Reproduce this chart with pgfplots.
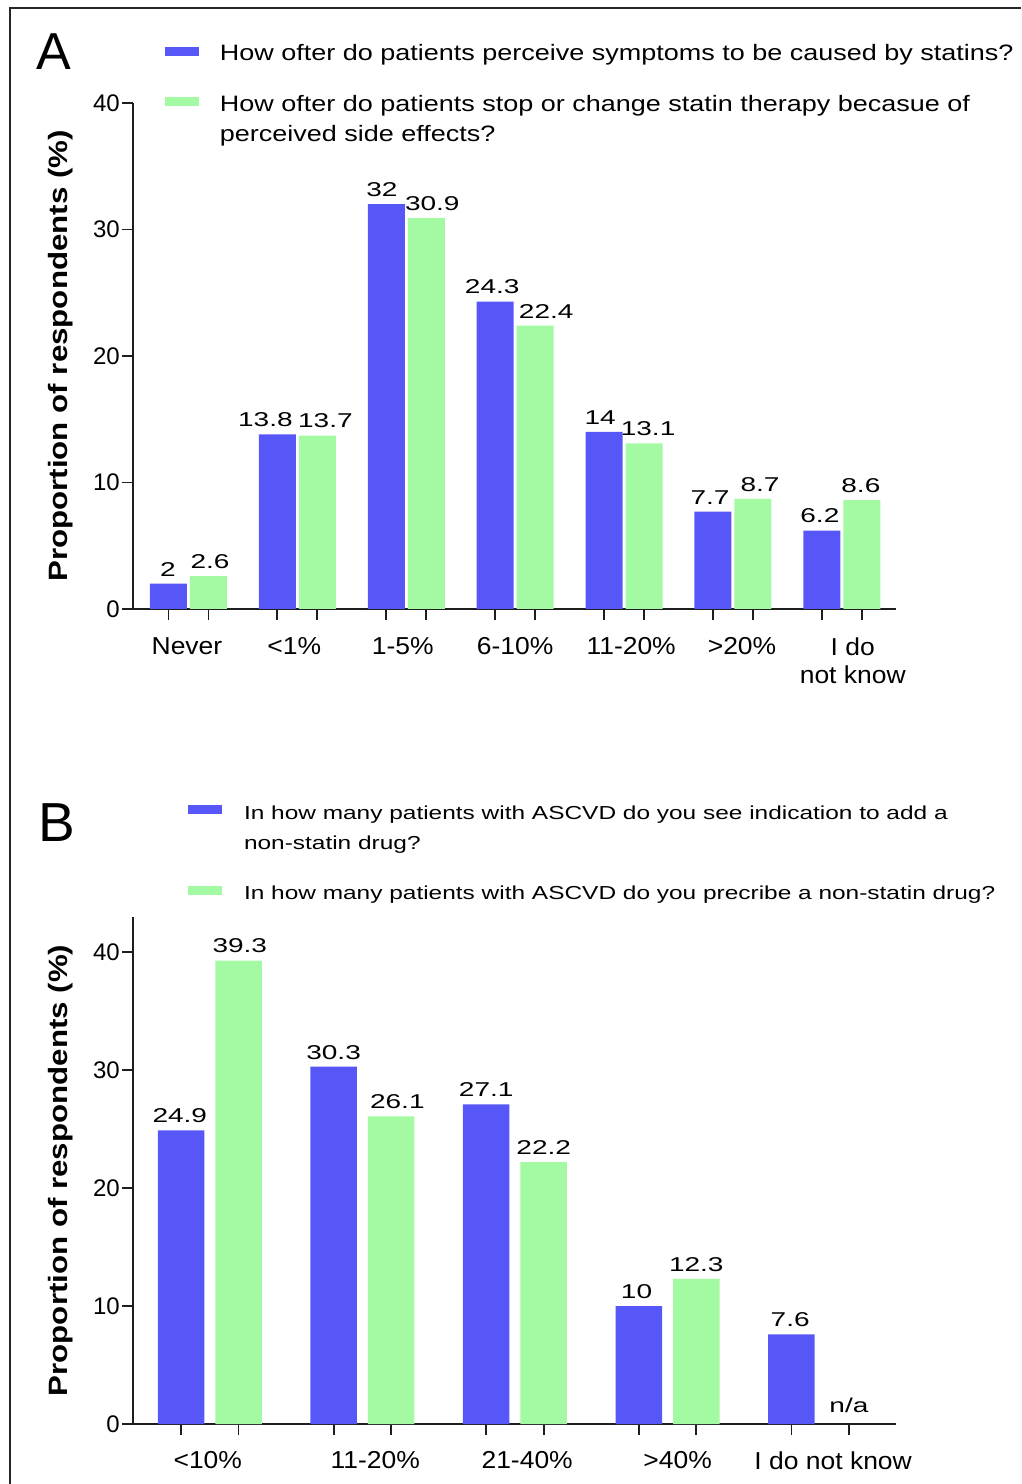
\documentclass[border=0pt]{standalone}
\usepackage{fontspec}
\setmainfont{Liberation Sans}
\newfontfamily\legfont[FakeStretch=1.21]{Liberation Sans}
\newfontfamily\legfontb[FakeStretch=1.3]{Liberation Sans}
\newfontfamily\tickfont[FakeStretch=1.08]{Liberation Sans}
\newfontfamily\lblfont[FakeStretch=1.4]{Liberation Sans}
\newfontfamily\ylabfont[FakeStretch=1.18]{Liberation Sans}
\usepackage{pgfplots}
\usepackage{pgfplotstable}
\pgfplotsset{compat=1.18}
\definecolor{barblue}{RGB}{87,87,247}
\definecolor{bargreen}{RGB}{163,250,163}
\definecolor{axcol}{RGB}{30,30,30}
\pgfplotstableread{
x y dx
0 2 -20.5
1 13.8 -32
2 32 -24.3
3 24.3 -23
4 14 -24
5 7.7 -23
6 6.2 -22
}\tblAblue
\pgfplotstableread{
x y dx
0 2.6 21.5
1 13.7 28
2 30.9 26
3 22.4 31
4 13.1 24
5 8.7 27
6 8.6 19
}\tblAgreen
\pgfplotstableread{
x y dx
0 24.9 -30
1 30.3 -28.75
2 27.1 -28.75
3 10 -31
4 7.6 -30
}\tblBblue
\pgfplotstableread{
x y dx
0 39.3 30
1 26.1 35
2 22.2 28.75
3 12.3 28.75
}\tblBgreen
\pgfplotsset{
 mystyle/.style={
  scale only axis, width=763pt,
  axis x line*=bottom, axis y line*=left,
  axis line style={axcol, line width=1.8pt, -},
  x axis line style={-}, y axis line style={-},
  tick style={axcol, line width=1.8pt},
  tick align=outside, major tick length=11pt,
  ytick={0,10,20,30,40},
  /pgf/number format/assume math mode=true,
  yticklabel style={font=\fontsize{24}{28}\selectfont, inner sep=2pt},
  ylabel={\ylabfont\bfseries Proportion of respondents (\%)},
  ylabel style={at={(axis description cs:-0.0786,0.5)}, anchor=south, inner sep=0pt, font=\fontsize{26.5}{30}\selectfont},
  nodes near coords,
  every node near coord/.append style={font=\lblfont\fontsize{20}{24}\selectfont, text=black, yshift=4pt},
  legend style={draw=none, fill=none, inner sep=0pt, outer sep=0pt, anchor=north west, nodes={inner sep=0pt, anchor=base west}},
 }
}
\begin{document}
\begin{tikzpicture}
\useasboundingbox (0pt,0pt) rectangle (1021pt,1484pt);
\draw[line width=2pt, black!85] (10pt,0pt) -- (10pt,1476pt) -- (1021pt,1476pt);
\node[anchor=base west, inner sep=0pt, font=\fontsize{52}{60}\selectfont] at (36pt,1414pt) {A};
\node[anchor=base west, inner sep=0pt, font=\fontsize{55}{62}\selectfont] at (38pt,642pt) {B};

\begin{axis}[mystyle, at={(133pt,875pt)}, anchor=south west, height=506pt,
 xmin=-0.5096, xmax=6.497, ymin=0, ymax=40,
 xtick={-0.1837,0.1837,0.8163,1.1837,1.8163,2.1837,2.8163,3.1837,3.8163,4.1837,4.8163,5.1837,5.8163,6.1837},
 xticklabels={{},{},{},{},{},{},{},{},{},{},{},{},{},{}},
 extra x ticks={-0.014,0.972,1.968,3.0,4.065,5.083,6.10},
 extra x tick labels={Never,<1\%,1-5\%,6-10\%,11-20\%,>20\%,I do\\not know},
 extra x tick style={major tick length=0pt, xticklabel style={font=\tickfont\fontsize{24.5}{28}\selectfont, align=center, anchor=north, yshift=-25pt}},
 legend style={at={(axis description cs:0.0419,1.1245)}, column sep=21pt, row sep=28pt, font=\legfont\fontsize{22.3}{30}\selectfont},
 ]
\addplot[ybar, bar width=37pt, bar shift=-20pt, fill=barblue, draw=none,
 visualization depends on={\thisrow{dx}\as\dx},
 every node near coord/.append style={xshift=\dx pt},
 legend image code/.code={\fill[barblue] (0pt,5pt) rectangle (34pt,14pt);}]
 table[x=x, y=y] {\tblAblue};
\addlegendentry{\begin{tabular}[t]{@{}l@{}}How ofter do patients perceive symptoms to be caused by statins?\end{tabular}}
\addplot[ybar, bar width=37pt, bar shift=20pt, fill=bargreen, draw=none,
 visualization depends on={\thisrow{dx}\as\dx},
 every node near coord/.append style={xshift=\dx pt},
 legend image code/.code={\fill[bargreen] (0pt,5pt) rectangle (34pt,14pt);}]
 table[x=x, y=y] {\tblAgreen};
\addlegendentry{\begin{tabular}[t]{@{}l@{}}How ofter do patients stop or change statin therapy becasue of\\perceived side effects?\end{tabular}}
\end{axis}

\begin{axis}[mystyle, at={(133pt,60pt)}, anchor=south west, height=507pt,
 xmin=-0.503, xmax=4.497, ymin=0, ymax=43,
 xtick={-0.1884,0.1884,0.8116,1.1884,1.8116,2.1884,2.8116,3.1884,3.8116,4.1884},
 xticklabels={{},{},{},{},{},{},{},{},{},{}},
 extra x ticks={-0.013,1.085,2.08,3.066,4.085},
 extra x tick labels={<10\%,11-20\%,21-40\%,>40\%,I do not know},
 extra x tick style={major tick length=0pt, xticklabel style={font=\tickfont\fontsize{24.5}{28}\selectfont, align=center, anchor=north, yshift=-24pt}},
 legend style={at={(axis description cs:0.0721,1.2347)}, column sep=22pt, row sep=58pt, font=\legfontb\fontsize{18.8}{30}\selectfont},
 ]
\addplot[ybar, bar width=46.5pt, bar shift=-28.75pt, fill=barblue, draw=none,
 visualization depends on={\thisrow{dx}\as\dx},
 every node near coord/.append style={xshift=\dx pt},
 legend image code/.code={\fill[barblue] (0pt,5pt) rectangle (34pt,14pt);}]
 table[x=x, y=y] {\tblBblue};
\addlegendentry{\begin{tabular}[t]{@{}l@{}}In how many patients with ASCVD do you see indication to add a\\non-statin drug?\end{tabular}}
\addplot[ybar, bar width=46.5pt, bar shift=28.75pt, fill=bargreen, draw=none,
 visualization depends on={\thisrow{dx}\as\dx},
 every node near coord/.append style={xshift=\dx pt},
 legend image code/.code={\fill[bargreen] (0pt,5pt) rectangle (34pt,14pt);}]
 table[x=x, y=y] {\tblBgreen};
\addlegendentry{\begin{tabular}[t]{@{}l@{}}In how many patients with ASCVD do you precribe a non-statin drug?\end{tabular}}
\node[font=\lblfont\fontsize{20}{24}\selectfont, anchor=base, yshift=11pt] at ([xshift=28.75pt]axis cs:4,0) {n/a};
\end{axis}
\end{tikzpicture}
\end{document}
